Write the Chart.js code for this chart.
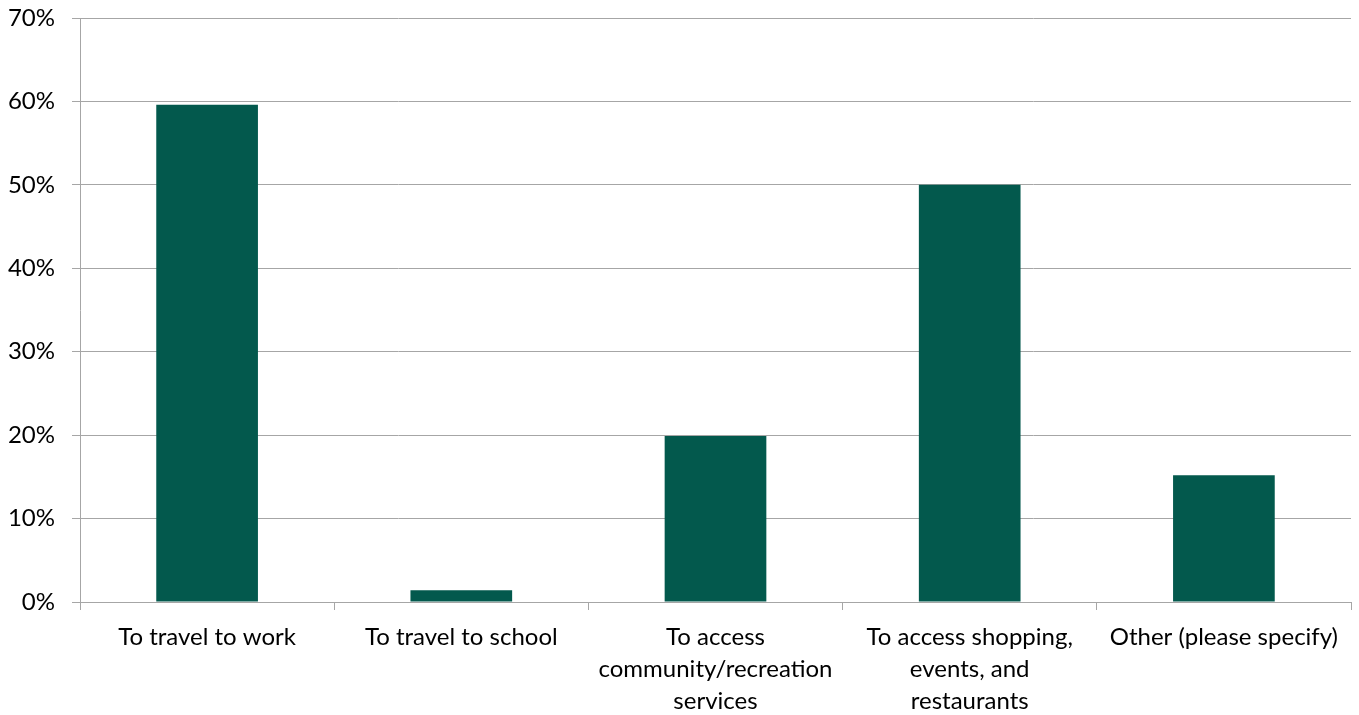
<!DOCTYPE html>
<html>
<head>
<meta charset="utf-8">
<script src="https://cdn.jsdelivr.net/npm/chart.js@4/dist/chart.umd.min.js"></script>
<style>
  html, body { margin: 0; padding: 0; background: #fff; }
  #wrap { width: 1359px; height: 715px; position: relative; }
</style>
</head>
<body>
<div id="wrap"><canvas id="mainChart"></canvas></div>
<script>
// Trip purposes and share of respondents (%)
const categories = [
    'To travel to work',
    'To travel to school',
    ['To access', 'community/recreation', 'services'],
    ['To access shopping,', 'events, and', 'restaurants'],
    'Other (please specify)'
];
const shares = [59.6, 1.4, 19.9, 50.0, 15.2];
const yTicks = [0, 10, 20, 30, 40, 50, 60, 70];

const barColor = '#03594d';
const lineColor = '#a6a6a6';
const fontFamily = 'Lato, "Open Sans", sans-serif';

window.onload = () => {
    const ctx = document.getElementById('mainChart');
    new Chart(ctx, {
        type: 'bar',
        data: {
            labels: categories,
            datasets: [{
                data: shares,
                backgroundColor: barColor,
                borderWidth: 0,
                barPercentage: 0.4,
                categoryPercentage: 1.0
            }]
        },
        options: {
            responsive: true,
            maintainAspectRatio: false,
            animation: false,
            layout: { padding: { top: 18, right: 8, left: 0, bottom: 0 } },
            plugins: { legend: { display: false }, tooltip: { enabled: false } },
            scales: {
                x: {
                    grid: {
                        offset: true,
                        drawOnChartArea: false,
                        drawTicks: true,
                        tickLength: 8,
                        color: lineColor
                    },
                    border: { color: lineColor, width: 1 },
                    ticks: {
                        color: '#000',
                        font: { family: fontFamily, size: 24, lineHeight: 1.33 },
                        padding: 11,
                        maxRotation: 0,
                        autoSkip: false
                    },
                    afterFit: (scale) => { scale.height = 113; }
                },
                y: {
                    min: 0,
                    max: 70,
                    afterBuildTicks: (scale) => {
                        scale.ticks = yTicks.map(v => ({ value: v }));
                    },
                    grid: {
                        color: lineColor,
                        tickLength: 8
                    },
                    border: { color: lineColor, width: 1 },
                    ticks: {
                        color: '#000',
                        font: { family: fontFamily, size: 24 },
                        padding: 17,
                        callback: (v) => v + '%'
                    },
                    afterFit: (scale) => {
                        scale.width = 80;
                        // let the layout padding decide the top edge
                        scale.paddingTop = 0;
                        scale.paddingBottom = 0;
                    }
                }
            }
        }
    });
};
</script>
</body>
</html>
